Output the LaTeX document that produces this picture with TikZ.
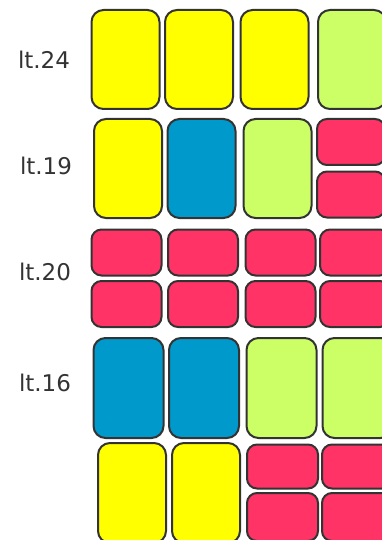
\documentclass[tikz,border=0pt]{standalone}
\usepackage{fontspec}
\setmainfont{DejaVu Sans}
\definecolor{tileyellow}{HTML}{FFFF00}
\definecolor{tileblue}{HTML}{0099CC}
\definecolor{tilegreen}{HTML}{CCFF66}
\definecolor{tilered}{HTML}{FF3366}
\begin{document}
\begin{tikzpicture}[x=1pt,y=-1pt, every node/.style={font=\fontsize{23}{27}\selectfont}]
\tikzset{tile/.style={draw=black!80,line width=2pt,rounded corners=12pt,inner sep=0pt,minimum width=68pt,minimum height=99pt},
  half/.style={tile,minimum height=46pt,rounded corners=10pt},
  lbl/.style={text=black!80,inner sep=0pt}}
\useasboundingbox (0,0) rectangle (382,540);
\clip (0,0) rectangle (382,540);
% row lt.24
\node[lbl] (l24) at (44,60) {lt.24};
\node[tile,fill=tileyellow] (a1) at (125.5,59.5) {};
\node[tile,fill=tileyellow] (a2) at (199,59.5) {};
\node[tile,fill=tileyellow] (a3) at (274.5,59.5) {};
\node[tile,fill=tilegreen] (a4) at (352,59.5) {};
% row lt.19
\node[lbl] (l19) at (46,166) {lt.19};
\node[tile,fill=tileyellow] (b1) at (128,168.5) {};
\node[tile,fill=tileblue] (b2) at (201.5,168.5) {};
\node[tile,fill=tilegreen] (b3) at (277.5,168.5) {};
\node[half,fill=tilered] (b4) at (351,142) {};
\node[half,fill=tilered] (b5) at (351,194.5) {};
% row lt.20
\node[lbl] (l20) at (45,272) {lt.20};
\node[half,fill=tilered,minimum width=70pt] (c1) at (126.5,252.5) {};
\node[half,fill=tilered,minimum width=70pt] (c2) at (203,252.5) {};
\node[half,fill=tilered,minimum width=70pt] (c3) at (280.5,252.5) {};
\node[half,fill=tilered,minimum width=70pt] (c4) at (355,252.5) {};
\node[half,fill=tilered,minimum width=70pt] (c5) at (126.5,304) {};
\node[half,fill=tilered,minimum width=70pt] (c6) at (203,304) {};
\node[half,fill=tilered,minimum width=70pt] (c7) at (280.5,304) {};
\node[half,fill=tilered,minimum width=70pt] (c8) at (355,304) {};
% row lt.16
\node[lbl] (l16) at (45,383) {lt.16};
\node[tile,fill=tileblue,minimum width=70pt,minimum height=100pt] (d1) at (128.5,388) {};
\node[tile,fill=tileblue,minimum width=70pt,minimum height=100pt] (d2) at (204,388) {};
\node[tile,fill=tilegreen,minimum width=70pt,minimum height=100pt] (d3) at (281.5,388) {};
\node[tile,fill=tilegreen,minimum width=70pt,minimum height=100pt] (d4) at (357.5,388) {};
% last row, no label
\node[tile,fill=tileyellow,minimum height=100pt] (e1) at (132,493) {};
\node[tile,fill=tileyellow,minimum height=100pt] (e2) at (206,493) {};
\node[half,fill=tilered,minimum width=71pt,minimum height=44pt] (e3) at (282.5,466.5) {};
\node[half,fill=tilered,minimum width=70pt,minimum height=44pt] (e4) at (357,466.5) {};
\node[half,fill=tilered,minimum width=71pt,minimum height=48pt] (e5) at (282.5,517) {};
\node[half,fill=tilered,minimum width=70pt,minimum height=48pt] (e6) at (357,517) {};
\end{tikzpicture}
\end{document}
